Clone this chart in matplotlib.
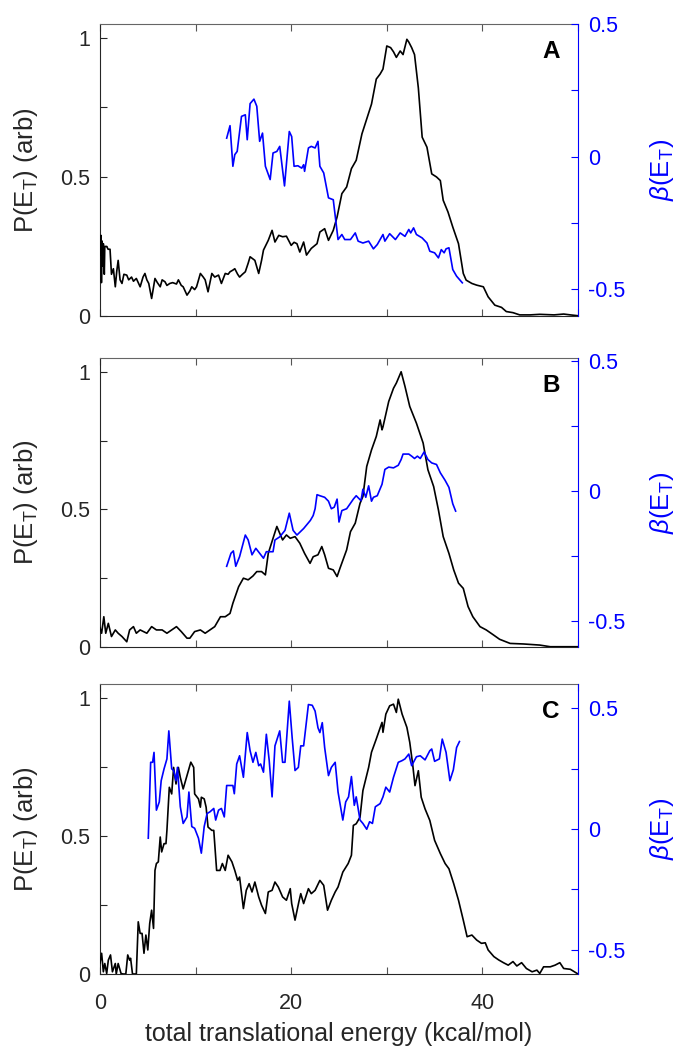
import matplotlib
matplotlib.use("Agg")
import matplotlib.pyplot as plt

plt.rcParams['font.family'] = ['Liberation Sans', 'DejaVu Sans']
plt.rcParams['mathtext.fontset'] = 'custom'
plt.rcParams['mathtext.rm'] = 'Liberation Sans'
plt.rcParams['mathtext.it'] = 'Liberation Sans:italic'

# ---------------- data ----------------
xA_P = [0.0, 0.1, 0.15, 0.2, 0.3, 0.35, 0.45, 0.5, 0.7, 0.85, 1.05, 1.2, 1.4, 1.6, 1.75, 1.9, 2.1, 2.3, 2.5, 2.8,
        3.0, 3.3, 3.5, 3.8, 4.0, 4.2, 4.5, 4.7, 4.9, 5.1, 5.4, 5.75, 6.0, 6.3, 6.5, 6.8, 7.0, 7.3, 7.6, 8.0,
        8.2, 8.5, 8.7, 9.1, 9.4, 9.6, 9.9, 10.1, 10.5, 10.8, 11.0, 11.3, 11.7, 12.0, 12.4, 12.7, 13.1, 13.4, 13.6, 13.9,
        14.1, 14.4, 14.6, 14.9, 15.2, 15.5, 15.7, 16.0, 16.2, 16.6, 16.9, 17.1, 17.6, 18.0, 18.3, 18.7, 19.1, 19.5, 20.0, 20.3,
        20.6, 20.9, 21.3, 21.6, 22.1, 22.7, 23.0, 23.5, 23.9, 24.4, 24.8, 25.3, 25.8, 26.3, 26.8, 27.4, 27.9, 28.4, 28.9, 29.3,
        29.6, 30.0, 30.4, 30.7, 31.0, 31.4, 31.7, 32.1, 32.3, 32.6, 32.9, 33.3, 33.7, 34.2, 34.7, 35.2, 35.6, 35.9, 36.4, 36.9,
        37.5, 38.0, 38.3, 38.9, 39.4, 40.1, 40.6, 41.3, 42.0, 42.5, 43.2, 43.9, 45.0, 46.0, 46.7, 47.5, 48.5, 49.2, 50.0]
PA = [0.22, 0.29, 0.12, 0.27, 0.18, 0.26, 0.15, 0.25, 0.25, 0.24, 0.24, 0.15, 0.17, 0.105, 0.16, 0.2, 0.13, 0.117, 0.15, 0.147,
      0.13, 0.14, 0.125, 0.135, 0.12, 0.105, 0.14, 0.153, 0.13, 0.117, 0.063, 0.135, 0.12, 0.105, 0.13, 0.123, 0.11, 0.117, 0.12, 0.115,
      0.13, 0.11, 0.105, 0.075, 0.09, 0.105, 0.095, 0.105, 0.153, 0.14, 0.13, 0.087, 0.153, 0.14, 0.147, 0.117, 0.153, 0.15, 0.159, 0.165,
      0.17, 0.15, 0.14, 0.15, 0.159, 0.19, 0.213, 0.205, 0.2, 0.153, 0.2, 0.237, 0.272, 0.308, 0.266, 0.29, 0.285, 0.287, 0.254, 0.265,
      0.26, 0.23, 0.266, 0.219, 0.243, 0.26, 0.302, 0.314, 0.272, 0.308, 0.356, 0.44, 0.464, 0.53, 0.56, 0.655, 0.708, 0.762, 0.852, 0.87,
      0.888, 0.971, 0.965, 0.95, 0.93, 0.953, 0.94, 0.995, 0.985, 0.965, 0.94, 0.82, 0.643, 0.607, 0.511, 0.5, 0.487, 0.416, 0.374, 0.32,
      0.26, 0.153, 0.129, 0.117, 0.111, 0.105, 0.069, 0.039, 0.031, 0.016, 0.012, 0.004, 0.004, 0.006, 0.005, 0.004, 0.007, 0.004, 0.001]

xA_b = [13.25, 13.6, 13.9, 14.1, 14.35, 14.8, 15.2, 15.4, 15.7, 16.1, 16.4, 16.7, 17.0, 17.3, 17.8, 18.1, 18.5, 18.8, 19.3, 19.8,
        20.05, 20.3, 20.7, 21.1, 21.3, 21.4, 21.8, 22.1, 22.5, 22.8, 23.0, 23.4, 23.9, 24.4, 24.9, 25.3, 25.6, 26.2, 26.7, 27.0,
        27.5, 28.1, 28.6, 29.0, 29.6, 29.8, 30.3, 30.9, 31.4, 31.9, 32.3, 32.5, 32.8, 33.1, 33.7, 34.2, 34.5, 35.0, 35.4, 35.7,
        36.0, 36.2, 36.5, 36.9, 37.3, 37.9]
bA = [0.07, 0.117, -0.036, 0.008, 0.02, 0.152, 0.158, 0.064, 0.2, 0.217, 0.19, 0.058, 0.089, -0.036, -0.086, 0.014, 0.02, 0.039, -0.11, 0.095,
      0.076, -0.036, -0.034, -0.043, -0.03, -0.055, 0.033, 0.039, 0.033, 0.058, -0.036, -0.061, -0.155, -0.162, -0.312, -0.293, -0.312, -0.312, -0.287, -0.318,
      -0.325, -0.318, -0.347, -0.331, -0.293, -0.318, -0.29, -0.312, -0.287, -0.3, -0.274, -0.287, -0.268, -0.293, -0.306, -0.325, -0.356, -0.362, -0.381, -0.35,
      -0.362, -0.347, -0.343, -0.425, -0.45, -0.475]

xB_P = [0.0, 0.17, 0.4, 0.6, 0.87, 1.2, 1.6, 1.9, 2.3, 2.8, 3.1, 3.5, 3.8, 4.2, 4.9, 5.4, 5.9, 6.5, 7.0, 7.5,
        8.0, 8.5, 9.1, 9.4, 9.9, 10.5, 11.0, 11.5, 12.0, 12.6, 13.1, 13.6, 13.9, 14.5, 15.0, 15.5, 16.0, 16.4, 16.9, 17.3,
        17.6, 18.1, 18.5, 18.8, 19.1, 19.5, 19.9, 20.4, 20.9, 21.4, 21.97, 22.3, 22.8, 23.2, 23.5, 23.9, 24.4, 24.8, 25.1, 25.8,
        26.2, 26.7, 27.2, 27.5, 27.9, 28.4, 28.9, 29.3, 29.5, 29.6, 30.2, 30.7, 31.0, 31.5, 31.9, 32.4, 33.1, 33.8, 34.3, 34.9,
        35.4, 35.9, 36.5, 37.0, 37.5, 38.0, 38.5, 39.0, 39.75, 40.4, 41.15, 41.8, 42.9, 44.3, 46.0, 47.1, 50.0]
PB = [0.07, 0.05, 0.11, 0.05, 0.086, 0.038, 0.062, 0.05, 0.038, 0.019, 0.062, 0.074, 0.05, 0.062, 0.05, 0.074, 0.062, 0.062, 0.05, 0.062,
      0.074, 0.056, 0.032, 0.032, 0.056, 0.062, 0.05, 0.062, 0.074, 0.11, 0.11, 0.122, 0.159, 0.219, 0.25, 0.244, 0.258, 0.274, 0.274, 0.262,
      0.34, 0.395, 0.438, 0.413, 0.389, 0.407, 0.395, 0.401, 0.377, 0.34, 0.304, 0.328, 0.335, 0.365, 0.335, 0.286, 0.28, 0.256, 0.286, 0.353,
      0.419, 0.45, 0.522, 0.547, 0.656, 0.716, 0.765, 0.825, 0.789, 0.8, 0.892, 0.94, 0.959, 1.0, 0.947, 0.874, 0.813, 0.741, 0.644, 0.583,
      0.498, 0.401, 0.34, 0.28, 0.232, 0.213, 0.147, 0.11, 0.074, 0.062, 0.044, 0.028, 0.013, 0.011, 0.007, 0.001, 0.001]

xB_b = [13.25, 13.7, 13.95, 14.2, 14.6, 15.2, 15.5, 15.9, 16.3, 16.7, 17.1, 17.4, 18.1, 18.3, 18.8, 19.35, 19.8, 20.2, 20.6, 21.3,
        22.0, 22.3, 22.5, 22.7, 23.0, 23.5, 23.9, 24.2, 24.5, 24.8, 25.0, 25.3, 25.8, 26.2, 26.5, 26.8, 27.3, 27.5, 27.8, 28.1,
        28.4, 28.6, 29.0, 29.5, 29.8, 30.2, 30.7, 31.2, 31.5, 31.7, 32.3, 32.6, 32.9, 33.2, 33.5, 33.9, 34.3, 34.7, 35.2, 35.6,
        36.1, 36.5, 36.9, 37.2]
bB = [-0.29, -0.24, -0.231, -0.29, -0.253, -0.17, -0.189, -0.246, -0.221, -0.24, -0.259, -0.234, -0.234, -0.189, -0.177, -0.152, -0.086, -0.152, -0.17, -0.145,
      -0.114, -0.095, -0.069, -0.015, -0.019, -0.025, -0.04, -0.069, -0.063, -0.032, -0.12, -0.076, -0.069, -0.048, -0.032, -0.019, -0.038, 0.006, -0.025, 0.019,
      -0.04, -0.025, -0.019, 0.025, 0.082, 0.091, 0.088, 0.098, 0.12, 0.141, 0.141, 0.133, 0.124, 0.133, 0.124, 0.149, 0.12, 0.107, 0.101, 0.069,
      0.04, 0.013, -0.05, -0.078]

xC_P = [0.0, 0.17, 0.35, 0.5, 0.7, 0.87, 1.1, 1.3, 1.6, 1.7, 1.9, 2.2, 2.4, 2.7, 2.9, 3.1, 3.2, 3.4, 3.8, 4.0,
        4.2, 4.4, 4.6, 4.8, 5.0, 5.2, 5.4, 5.6, 5.75, 5.9, 6.1, 6.3, 6.45, 6.7, 6.9, 7.0, 7.25, 7.5, 7.7, 7.95,
        8.2, 8.4, 8.7, 9.1, 9.5, 9.8, 9.9, 10.3, 10.5, 10.6, 10.9, 11.1, 11.3, 11.7, 11.9, 12.2, 12.55, 12.8, 13.1, 13.4,
        13.8, 14.1, 14.4, 14.6, 15.0, 15.3, 15.6, 15.9, 16.2, 16.6, 16.9, 17.3, 17.6, 18.0, 18.3, 18.65, 19.1, 19.5, 19.9, 20.05,
        20.4, 20.8, 21.0, 21.3, 21.8, 22.1, 22.5, 23.0, 23.4, 23.8, 24.2, 24.6, 24.9, 25.4, 25.96, 26.3, 26.5, 26.8, 27.2, 27.5,
        28.1, 28.4, 28.9, 29.5, 29.6, 29.9, 30.3, 30.7, 31.0, 31.2, 31.6, 32.1, 32.4, 32.7, 32.95, 33.3, 33.6, 34.0, 34.5, 35.0,
        35.6, 36.1, 36.5, 37.0, 37.5, 38.0, 38.4, 38.9, 39.4, 39.9, 40.3, 40.6, 41.2, 41.7, 42.2, 42.7, 43.2, 43.6, 44.1, 44.6,
        45.2, 45.7, 46.0, 46.4, 47.1, 47.6, 48.1, 48.5, 49.2, 50.0]
PC = [0.04, 0.075, 0.008, 0.038, 0.002, 0.05, 0.069, 0.008, 0.038, 0.0, 0.038, 0.002, 0.0, 0.0, 0.069, 0.05, 0.057, 0.0, 0.0, 0.189,
      0.147, 0.147, 0.075, 0.141, 0.087, 0.183, 0.231, 0.165, 0.375, 0.4, 0.406, 0.496, 0.442, 0.472, 0.472, 0.52, 0.676, 0.652, 0.748, 0.688,
      0.748, 0.712, 0.67, 0.718, 0.767, 0.748, 0.652, 0.634, 0.604, 0.64, 0.634, 0.604, 0.532, 0.52, 0.52, 0.375, 0.375, 0.4, 0.375, 0.43,
      0.406, 0.375, 0.339, 0.351, 0.237, 0.303, 0.327, 0.297, 0.333, 0.279, 0.249, 0.219, 0.297, 0.303, 0.333, 0.315, 0.279, 0.267, 0.309, 0.255,
      0.195, 0.261, 0.291, 0.255, 0.309, 0.291, 0.303, 0.339, 0.321, 0.231, 0.267, 0.297, 0.315, 0.369, 0.4, 0.43, 0.538, 0.544, 0.568, 0.664,
      0.748, 0.803, 0.851, 0.911, 0.875, 0.941, 0.971, 0.977, 0.947, 0.995, 0.941, 0.893, 0.839, 0.761, 0.682, 0.736, 0.64, 0.598, 0.556, 0.484,
      0.436, 0.4, 0.381, 0.327, 0.267, 0.195, 0.135, 0.141, 0.123, 0.111, 0.113, 0.087, 0.063, 0.051, 0.041, 0.032, 0.045, 0.029, 0.041, 0.02,
      0.008, 0.014, 0.002, 0.026, 0.026, 0.032, 0.041, 0.02, 0.017, 0.0]

xC_b = [5.05, 5.3, 5.5, 5.65, 5.9, 6.2, 6.4, 6.7, 7.0, 7.2, 7.5, 7.7, 7.95, 8.1, 8.4, 8.7, 9.1, 9.3, 9.6, 9.9,
        10.3, 10.6, 10.9, 11.2, 11.5, 11.9, 12.1, 12.4, 12.7, 13.0, 13.25, 13.6, 13.9, 14.05, 14.3, 14.6, 15.0, 15.4, 15.7, 16.0,
        16.3, 16.6, 16.8, 17.1, 17.4, 17.7, 18.0, 18.3, 18.8, 19.1, 19.35, 19.8, 20.1, 20.4, 20.75, 21.0, 21.3, 21.8, 22.2, 22.5,
        22.8, 23.0, 23.25, 23.5, 23.9, 24.2, 24.6, 24.9, 25.4, 25.7, 26.0, 26.3, 26.6, 26.8, 27.2, 27.5, 27.9, 28.2, 28.5, 28.8,
        29.3, 29.6, 29.9, 30.3, 30.7, 31.2, 31.6, 31.9, 32.3, 32.6, 33.1, 33.5, 34.0, 34.5, 34.7, 35.0, 35.5, 35.8, 36.2, 36.6,
        36.96, 37.3, 37.6]
bC = [-0.038, 0.276, 0.276, 0.317, 0.078, 0.112, 0.2, 0.249, 0.29, 0.406, 0.249, 0.242, 0.2, 0.255, 0.092, 0.023, 0.05, 0.153, 0.01, 0.003,
      -0.038, -0.1, 0.01, 0.064, 0.071, 0.085, 0.037, 0.078, 0.085, 0.05, 0.18, 0.18, 0.18, 0.146, 0.269, 0.303, 0.214, 0.399, 0.324, 0.276,
      0.317, 0.262, 0.269, 0.235, 0.392, 0.283, 0.133, 0.344, 0.406, 0.276, 0.276, 0.529, 0.378, 0.242, 0.255, 0.344, 0.344, 0.515, 0.512, 0.488,
      0.419, 0.399, 0.44, 0.337, 0.221, 0.255, 0.276, 0.153, 0.037, 0.112, 0.133, 0.217, 0.098, 0.133, 0.037, 0.023, -0.001, 0.03, 0.023, 0.092,
      0.105, 0.133, 0.173, 0.153, 0.214, 0.276, 0.283, 0.29, 0.31, 0.262, 0.299, 0.303, 0.286, 0.324, 0.331, 0.28, 0.29, 0.372, 0.317, 0.2,
      0.245, 0.337, 0.362]

panel_letters = ['A', 'B', 'C']
x_ticks = [0, 10, 20, 30, 40, 50]
x_ticklabels = ['0', '', '20', '', '40', '']
p_ticks = [0, 0.25, 0.5, 0.75, 1]
p_ticklabels = ['0', '', '0.5', '', '1']
b_ticks = [-0.5, -0.25, 0, 0.25, 0.5]
b_ticklabels = ['-0.5', '', '0', '', '0.5']
b_limits = [(-0.6, 0.5), (-0.6, 0.51), (-0.6, 0.6)]

panels = [(xA_P, PA, xA_b, bA), (xB_P, PB, xB_b, bB), (xC_P, PC, xC_b, bC)]

# ---------------- figure ----------------
W, H = 675, 1047
fig = plt.figure(figsize=(W / 100, H / 100), dpi=100)
rects = [(100, 24, 478, 292), (100, 358, 478, 289), (100, 684, 478, 290)]
DARK = '#262626'
BLUE = '#0000ff'
TICK_FS = 15.5
LABEL_FS = 18.5

for i, ((xp, p, xb, b), (l, t, w, h)) in enumerate(zip(panels, rects)):
    ax = fig.add_axes([l / W, 1 - (t + h) / H, w / W, h / H])
    ax2 = ax.twinx()
    ax.plot(xp, p, color='black', lw=1.2, zorder=3)
    ax2.plot(xb, b, color=BLUE, lw=1.2)
    ax.set_xlim(0, 50)
    ax.set_ylim(0, 1.05)
    ax2.set_ylim(*b_limits[i])

    ax.set_xticks(x_ticks)
    if i == 2:
        ax.set_xticklabels(x_ticklabels)
        ax.set_xlabel('total translational energy (kcal/mol)', fontsize=18, color=DARK)
        ax.xaxis.set_label_coords(0.5, -0.165)
    else:
        ax.set_xticklabels([])
    ax.set_yticks(p_ticks)
    ax.set_yticklabels(p_ticklabels)
    ax.tick_params(axis='y', direction='in', length=5, width=0.8, labelsize=TICK_FS,
                   colors=DARK, right=False, pad=7)
    ax.tick_params(axis='x', direction='in', length=5, width=0.8, labelsize=TICK_FS,
                   colors='#555555', labelcolor=DARK, top=True, pad=14)
    for s in ['left', 'bottom']:
        ax.spines[s].set_color(DARK)
        ax.spines[s].set_linewidth(0.8)
    ax.spines['top'].set_color('#666666')
    ax.spines['top'].set_linewidth(0.8)
    ax.spines['right'].set_visible(False)

    ax2.set_yticks(b_ticks)
    ax2.set_yticklabels(b_ticklabels)
    ax2.tick_params(axis='y', direction='in', length=5, width=0.8, labelsize=TICK_FS,
                    colors=BLUE, pad=7)
    for s in ['left', 'top', 'bottom']:
        ax2.spines[s].set_visible(False)
    ax2.spines['right'].set_color(BLUE)
    ax2.spines['right'].set_linewidth(0.8)

    ax.set_ylabel(r'P(E$_\mathrm{T}$) (arb)', fontsize=LABEL_FS, color=DARK)
    ax.yaxis.set_label_coords(-0.125, 0.5)
    ax2.set_ylabel(r'$\beta$(E$_\mathrm{T}$)', fontsize=LABEL_FS, color=BLUE, rotation=90)
    ax2.yaxis.set_label_coords(1.146, 0.5)

    ax.text(0.962, 0.905, panel_letters[i], transform=ax.transAxes, ha='right', va='center',
            fontsize=17.5, fontweight='bold', color='black')

fig.savefig('out.png', dpi=100)
